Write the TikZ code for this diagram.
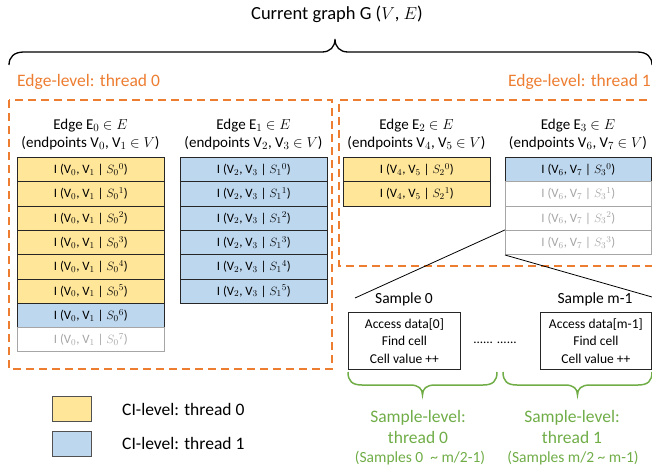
\documentclass[tikz,border=0pt]{standalone}
\usepackage{fontspec}
\setmainfont{Carlito}
\definecolor{myorange}{HTML}{ED7D31}
\definecolor{mygreen}{HTML}{70AD47}
\definecolor{myyellow}{HTML}{FFE699}
\definecolor{myblue}{HTML}{BDD7EE}
\definecolor{mygray}{HTML}{A6A6A6}
\definecolor{myborder}{HTML}{262626}
\begin{document}
\begin{tikzpicture}[x=1pt,y=-1pt,
  cellbase/.style={rectangle,anchor=north west,inner sep=0pt,minimum width=147pt,minimum height=24.3pt,font=\fontsize{12.8}{14}\selectfont,line width=0.8pt},
  ycell/.style={cellbase,draw=myborder,fill=myyellow},
  bcell/.style={cellbase,draw=myborder,fill=myblue},
  gcell/.style={cellbase,draw=mygray,fill=white,text=mygray},
  hdr/.style={align=center,font=\fontsize{15}{17.5}\selectfont,inner sep=0pt},
  olabel/.style={text=myorange,font=\fontsize{17.5}{20}\selectfont,inner sep=0pt},
  odash/.style={draw=myorange,line width=1.6pt,dash pattern=on 8pt off 5pt},
  samplebox/.style={draw=myborder,line width=0.8pt,rectangle,anchor=north west,minimum width=112pt,minimum height=57pt,inner sep=0pt},
  glabel/.style={text=mygreen,align=center,inner sep=0pt},
  legbox/.style={draw=myborder!80,line width=0.8pt,rectangle,anchor=north west,minimum width=39pt,minimum height=25pt,inner sep=0pt},
  legtext/.style={anchor=west,font=\fontsize{17.5}{20}\selectfont,inner sep=0pt}
]
\useasboundingbox (0,0) rectangle (652,473);

% title and brace
\node[font=\fontsize{18.5}{22}\selectfont,inner sep=0pt] (title) at (337,14) {Current graph G ($V$, $E$)};
\draw[line width=1.3pt] (9,65) .. controls (9,57) and (14,52) .. (24,52) -- (322,52)
  .. controls (330,52) and (335,47) .. (335,39)
  .. controls (335,47) and (340,52) .. (348,52) -- (637,52)
  .. controls (647,52) and (652,57) .. (652,65);

% orange labels and dashed regions
\node[olabel,anchor=west] (el0) at (17,82) {Edge-level: thread 0};
\node[olabel,anchor=east] (el1) at (651,82) {Edge-level: thread 1};
\draw[odash] (9,100) rectangle (332,369);
\draw[odash] (660,100) -- (339,100) -- (339,266) -- (660,266);

% edge E0
\node[hdr] (h0) at (90.5,134.5) {Edge E$_0$ $\in E$\\(endpoints V$_0$, V$_1$ $\in V$)};
\foreach \i in {0,...,5}{
  \node[ycell] (a\i) at (17,{157+24.3*\i}) {I (V$_0$, V$_1$ | $S_0{}^{\i}$)};
}
\node[bcell] (a6) at (17,{157+24.3*6}) {I (V$_0$, V$_1$ | $S_0{}^{6}$)};
\node[gcell] (a7) at (17,{157+24.3*7}) {I (V$_0$, V$_1$ | $S_0{}^{7}$)};

% edge E1
\node[hdr] (h1) at (253.5,134.5) {Edge E$_1$ $\in E$\\(endpoints V$_2$, V$_3$ $\in V$)};
\foreach \i in {0,...,5}{
  \node[bcell] (b\i) at (180,{157+24.3*\i}) {I (V$_2$, V$_3$ | $S_1{}^{\i}$)};
}

% edge E2
\node[hdr] (h2) at (416.5,134.5) {Edge E$_2$ $\in E$\\(endpoints V$_4$, V$_5$ $\in V$)};
\foreach \i in {0,1}{
  \node[ycell] (c\i) at (343,{157+24.3*\i}) {I (V$_4$, V$_5$ | $S_2{}^{\i}$)};
}

% edge E3
\node[hdr] (h3) at (578,134.5) {Edge E$_3$ $\in E$\\(endpoints V$_6$, V$_7$ $\in V$)};
\node[bcell,minimum width=146pt] (d0) at (505,157) {I (V$_6$, V$_7$ | $S_3{}^{0}$)};
\foreach \i in {1,2,3}{
  \node[gcell,minimum width=146pt] (d\i) at (505,{157+24.3*\i}) {I (V$_6$, V$_7$ | $S_3{}^{\i}$)};
}

% samples
\node[font=\fontsize{15.5}{18}\selectfont,inner sep=0pt] (s0lab) at (404,299) {Sample 0};
\node[font=\fontsize{15.5}{18}\selectfont,inner sep=0pt] (s1lab) at (595,299) {Sample m-1};
\node[samplebox] (s0) at (348,312) {};
\node[samplebox,minimum width=111pt] (s1) at (540,312) {};
\node[align=center,font=\fontsize{13.5}{17.5}\selectfont,inner sep=0pt] (s0t) at (s0.center) {Access data[0]\\Find cell\\Cell value ++};
\node[align=center,font=\fontsize{13.5}{17.5}\selectfont,inner sep=0pt] (s1t) at (s1.center) {Access data[m-1]\\Find cell\\Cell value ++};
\node[font=\fontsize{13}{15}\selectfont,inner sep=0pt] (dots) at (495,343) {...... ......};

\coordinate (l0end) at (355,298);
\coordinate (l1end) at (652,297);
\draw[line width=0.8pt] (d3.north west) -- (l0end);
\draw[line width=0.8pt] (d3.south west) -- (l1end);

% green braces
\draw[mygreen,line width=1.5pt] (348,372) .. controls (348,381) and (352,385) .. (362,385) -- (410,385)
  .. controls (419,385) and (422.5,389) .. (422.5,395)
  .. controls (422.5,389) and (426,385) .. (435,385) -- (483,385)
  .. controls (493,385) and (497,381) .. (497,372);
\draw[mygreen,line width=1.5pt] (503,372) .. controls (503,381) and (507,385) .. (517,385) -- (565,385)
  .. controls (574,385) and (577.5,389) .. (577.5,395)
  .. controls (577.5,389) and (581,385) .. (590,385) -- (638,385)
  .. controls (648,385) and (652,381) .. (652,372);

\node[glabel,font=\fontsize{17.5}{20.5}\selectfont] (g0) at (418,427) {Sample-level:\\thread 0};
\node[glabel,font=\fontsize{15.5}{17}\selectfont] (g0s) at (420,458) {(Samples 0 \ \textasciitilde{} m/2-1)};
\node[glabel,font=\fontsize{17.5}{20.5}\selectfont] (g1) at (572,427) {Sample-level:\\thread 1};
\node[glabel,font=\fontsize{15.5}{17}\selectfont] (g1s) at (573,458) {(Samples m/2 \textasciitilde{} m-1)};

% legend
\node[legbox,fill=myyellow] (ly) at (52,396) {};
\node[legbox,fill=myblue] (lb) at (52,431) {};
\node[legtext] (lyt) at (122,409) {CI-level: thread 0};
\node[legtext] (lbt) at (122,443.5) {CI-level: thread 1};
\end{tikzpicture}
\end{document}
